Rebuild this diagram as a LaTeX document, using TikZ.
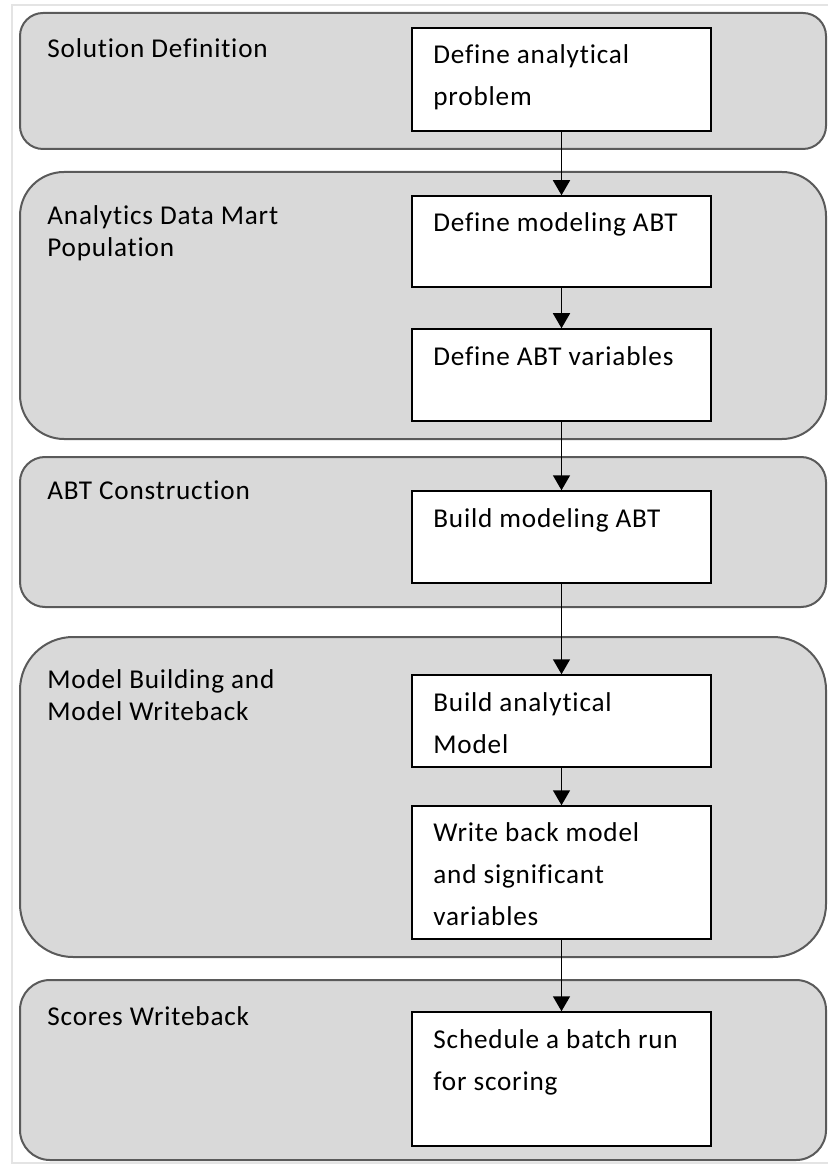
\documentclass[tikz,border=0pt]{standalone}
\usepackage{fontspec}
\setmainfont{Carlito}[Ligatures={NoCommon,NoContextual}, LetterSpace=3]
\usetikzlibrary{arrows.meta}
\definecolor{panelfill}{HTML}{D9D9D9}
\definecolor{paneldraw}{HTML}{5A5A5A}
\definecolor{framegray}{HTML}{E4E4E4}
\tikzset{
  panel/.style={draw=paneldraw, line width=1pt, fill=panelfill,
    minimum width=403pt, inner sep=0pt},
  stepbox/.style={draw=black, line width=0.75pt, fill=white,
    minimum width=149.5pt, inner sep=0pt},
  boxtext/.style={anchor=base west, inner sep=0pt, text=black,
    font=\fontsize{13.6}{21}\selectfont},
  phase/.style={anchor=base west, inner sep=0pt, text=black,
    font=\fontsize{13.6}{16}\selectfont},
  flow/.style={draw=black, line width=0.8pt,
    -{Triangle[length=7.5pt,width=8.5pt]}}
}
\begin{document}
\begin{tikzpicture}[x=0.5pt, y=-0.5pt]
\useasboundingbox (0,0) rectangle (828,1165);
% thin outer frame
\draw[framegray, line width=1pt] (828,5) -- (12,5) -- (12,1163) -- (828,1163);

% phase panels
\node[panel, minimum height=68pt,    rounded corners=11.5pt] (p1) at (423,81) {};
\node[panel, minimum height=133.5pt, rounded corners=22pt]   (p2) at (423,305.5) {};
\node[panel, minimum height=75pt,    rounded corners=12.5pt] (p3) at (423,532) {};
\node[panel, minimum height=160pt,   rounded corners=26.5pt] (p4) at (423,797) {};
\node[panel, minimum height=90pt,    rounded corners=15pt]   (p5) at (423,1070) {};

% phase labels
\node[phase] (l1) at (47,58) {Solution Definition};
\node[phase] (l2) at (47,225) {\vtop{\hbox{Analytics Data Mart}\hbox{Population}}};
\node[phase] (l3) at (47,499) {ABT Construction};
\node[phase] (l4) at (47,688) {\vtop{\hbox{Model Building and}\hbox{Model Writeback}}};
\node[phase] (l5) at (47,1025) {Scores Writeback};

% step boxes
\node[stepbox, minimum height=51.5pt] (b1) at (561.5,79.5) {};
\node[stepbox, minimum height=45.5pt] (b2) at (561.5,241.5) {};
\node[stepbox, minimum height=46pt]   (b3) at (561.5,375) {};
\node[stepbox, minimum height=46pt]   (b4) at (561.5,537) {};
\node[stepbox, minimum height=46pt]   (b5) at (561.5,721) {};
\node[stepbox, minimum height=66.5pt] (b6) at (561.5,872.5) {};
\node[stepbox, minimum height=67pt]   (b7) at (561.5,1079) {};

% step texts
\node[boxtext] (s1) at (433,64) {\vtop{\hbox{Define analytical}\hbox{problem}}};
\node[boxtext] (s2) at (433,232) {Define modeling ABT};
\node[boxtext] (s3) at (433,365) {Define ABT variables};
\node[boxtext] (s4) at (433,527) {Build modeling ABT};
\node[boxtext] (s5) at (433,711) {\vtop{\hbox{Build analytical}\hbox{Model}}};
\node[boxtext] (s6) at (433,841) {\vtop{\hbox{Write back model}\hbox{and significant}\hbox{variables}}};
\node[boxtext] (s7) at (433,1048) {\vtop{\hbox{Schedule a batch run}\hbox{for scoring}}};

% connectors
\draw[flow] (b1.south) -- (b2.north);
\draw[flow] (b2.south) -- (b3.north);
\draw[flow] (b3.south) -- (b4.north);
\draw[flow] (b4.south) -- (b5.north);
\draw[flow] (b5.south) -- (b6.north);
\draw[flow] (b6.south) -- (b7.north);
\end{tikzpicture}
\end{document}
